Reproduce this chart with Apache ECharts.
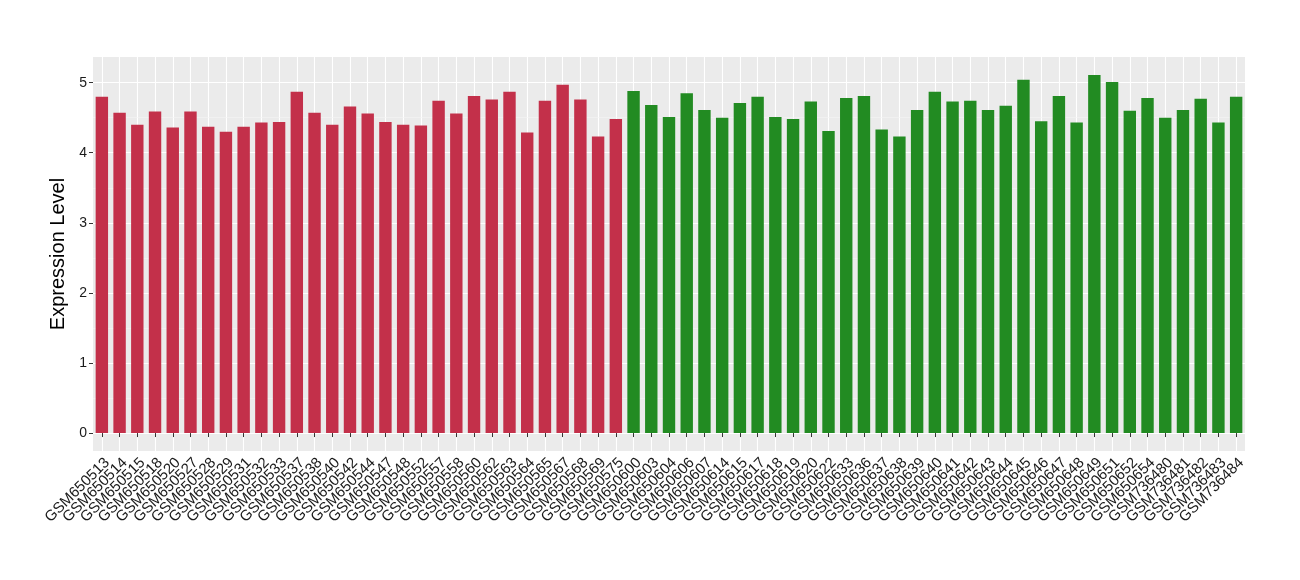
<!DOCTYPE html>
<html><head><meta charset="utf-8">
<script src="https://cdn.jsdelivr.net/npm/echarts@6/dist/echarts.min.js"></script>
<style>html,body{margin:0;padding:0;background:#fff}#c{width:1300px;height:580px}</style>
</head><body><div id="c"></div>
<script>
const categories = ["GSM650513","GSM650514","GSM650515","GSM650518","GSM650520","GSM650527","GSM650528","GSM650529","GSM650531","GSM650532","GSM650533","GSM650537","GSM650538","GSM650540","GSM650542","GSM650544","GSM650547","GSM650548","GSM650552","GSM650557","GSM650558","GSM650560","GSM650562","GSM650563","GSM650564","GSM650565","GSM650567","GSM650568","GSM650569","GSM650575",
"GSM650600","GSM650603","GSM650604","GSM650606","GSM650607","GSM650614","GSM650615","GSM650617","GSM650618","GSM650619","GSM650620","GSM650622","GSM650633","GSM650636","GSM650637","GSM650638","GSM650639","GSM650640","GSM650641","GSM650642","GSM650643","GSM650644","GSM650645","GSM650646","GSM650647","GSM650648","GSM650649","GSM650651","GSM650652","GSM650654","GSM736480","GSM736481","GSM736482","GSM736483","GSM736484"];
const values = [4.80,4.57,4.40,4.59,4.36,4.59,4.37,4.30,4.37,4.43,4.44,4.87,4.57,4.40,4.66,4.56,4.44,4.40,4.39,4.74,4.56,4.81,4.76,4.87,4.29,4.74,4.97,4.76,4.23,4.48,
4.88,4.68,4.51,4.85,4.61,4.50,4.71,4.80,4.51,4.48,4.73,4.31,4.78,4.81,4.33,4.23,4.61,4.87,4.73,4.74,4.61,4.67,5.04,4.45,4.81,4.43,5.11,5.01,4.60,4.78,4.50,4.61,4.77,4.43,4.80];
const groups = [0,0,0,0,0,0,0,0,0,0,0,0,0,0,0,0,0,0,0,0,0,0,0,0,0,0,0,0,0,0,
1,1,1,1,1,1,1,1,1,1,1,1,1,1,1,1,1,1,1,1,1,1,1,1,1,1,1,1,1,1,1,1,1,1,1];
const groupColors = ["#C3304A","#228B22"];
const yTicks = [0,1,2,3,4,5];
const yMinor = [0.5,1.5,2.5,3.5,4.5];

const chart = echarts.init(document.getElementById('c'));
chart.setOption({
  backgroundColor:'#fff',
  animation:false,
  grid:{left:93,right:55,top:57,bottom:129,backgroundColor:'#EBEBEB',show:true,borderWidth:0},
  xAxis:{type:'category',data:categories,boundaryGap:true,
    axisLine:{show:false},
    axisTick:{show:true,alignWithLabel:true,length:4,lineStyle:{color:'#333',width:1}},
    splitLine:{show:true,alignWithLabel:true,lineStyle:{color:'#fff',width:1.1}},
    axisLabel:{interval:0,rotate:45,fontSize:15,color:'#1a1a1a',fontFamily:'Liberation Sans, Arial, sans-serif',margin:4,align:'right',verticalAlign:'top'}
  },
  yAxis:{type:'value',min:-0.256,max:5.366,
    name:'Expression Level',nameLocation:'middle',nameGap:20,
    nameTextStyle:{fontSize:20,color:'#000',fontFamily:'Liberation Sans, Arial, sans-serif'},
    axisLine:{show:false},
    axisTick:{show:true,length:4,customValues:yTicks,lineStyle:{color:'#333',width:1}},
    axisLabel:{customValues:yTicks,fontSize:14,color:'#1a1a1a',margin:6,fontFamily:'Liberation Sans, Arial, sans-serif'},
    splitLine:{show:true,lineStyle:{color:'#fff',width:1.1}}
  },
  series:[{
    type:'bar',barWidth:'70%',
    data:values.map((v,i)=>({value:v,itemStyle:{color:groupColors[groups[i]]}})),
    markLine:{silent:true,symbol:'none',label:{show:false},
      lineStyle:{color:'#F5F5F5',width:0.6,type:'solid'},
      data:yMinor.map(v=>({yAxis:v})),z:0}
  }]
});
</script></body></html>
